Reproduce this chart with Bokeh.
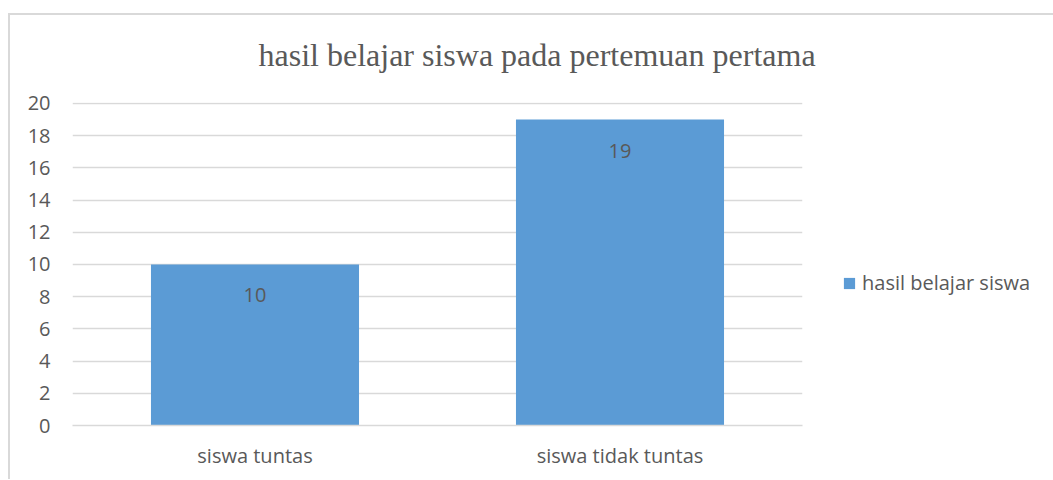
from bokeh.plotting import figure
from bokeh.models import ColumnDataSource, FactorRange, Range1d, Title, Legend, LegendItem
from bokeh.core.properties import value
from bokeh.embed import file_html
from bokeh.resources import INLINE

categories = ["siswa tuntas", "siswa tidak tuntas"]
values = [10, 19]
series_name = "hasil belajar siswa"
title_text = "hasil belajar siswa pada pertemuan pertama"
y_ticks = list(range(0, 21, 2))

TEXT = "#595959"
GRID = "#D9D9D9"
BAR = "#5B9BD5"
FONT = "Open Sans"

src = ColumnDataSource(dict(cat=categories, val=values, lab=[str(v) for v in values]))

p = figure(frame_width=730, frame_height=323, x_range=FactorRange(*categories, range_padding=0),
           y_range=Range1d(0, 20.06), output_backend="svg", toolbar_location=None,
           min_border_left=62, min_border_right=250, min_border_top=87, min_border_bottom=54)
p.styles = {"border-left": "2px solid #d9d9d9", "border-top": "2px solid #d9d9d9",
            "margin-left": "8px", "margin-top": "13px"}
p.outline_line_color = None
p.background_fill_color = "white"
p.border_fill_color = "white"

bars = p.vbar(x="cat", top="val", width=0.57, source=src, fill_color=BAR, line_color=None)
p.text(x="cat", y="val", text="lab", source=src, y_offset=31, text_align="center",
       text_baseline="middle", text_color=TEXT, text_font=value(FONT), text_font_size="20px")

p.yaxis.ticker = y_ticks
p.yaxis.axis_line_color = None
p.yaxis.major_tick_line_color = None
p.yaxis.minor_tick_line_color = None
p.yaxis.major_tick_out = 0
p.yaxis.major_tick_in = 0
p.yaxis.major_label_text_color = TEXT
p.yaxis.major_label_text_font = FONT
p.yaxis.major_label_text_font_size = "20px"
p.yaxis.major_label_standoff = 22

p.xaxis.axis_line_color = GRID
p.xaxis.axis_line_width = 1.5
p.xaxis.major_tick_line_color = None
p.xaxis.minor_tick_line_color = None
p.xaxis.major_tick_out = 0
p.xaxis.major_tick_in = 0
p.xaxis.major_label_text_color = TEXT
p.xaxis.major_label_text_font = FONT
p.xaxis.major_label_text_font_size = "20px"
p.xaxis.major_label_standoff = 16

p.xgrid.grid_line_color = None
p.ygrid.grid_line_color = GRID
p.ygrid.grid_line_width = 1.5

# spacer between frame and title, then the title itself
p.add_layout(Title(text=" ", text_font_size="21px", standoff=0), "above")
p.add_layout(Title(text=title_text, align="left", offset=186,
                   text_color=TEXT, text_font="Liberation Serif", text_font_size="32px",
                   text_font_style="normal"), "above")

lg = Legend(items=[LegendItem(label=series_name, renderers=[bars])], location=(40, 129))
lg.border_line_color = None
lg.background_fill_alpha = 0
lg.padding = 0
lg.margin = 0
lg.glyph_width = 14
lg.glyph_height = 14
lg.label_standoff = 6
lg.label_text_font = FONT
lg.label_text_font_size = "20px"
lg.label_text_color = TEXT
p.add_layout(lg, "right")

open("out.html", "w").write(file_html(p, INLINE))
